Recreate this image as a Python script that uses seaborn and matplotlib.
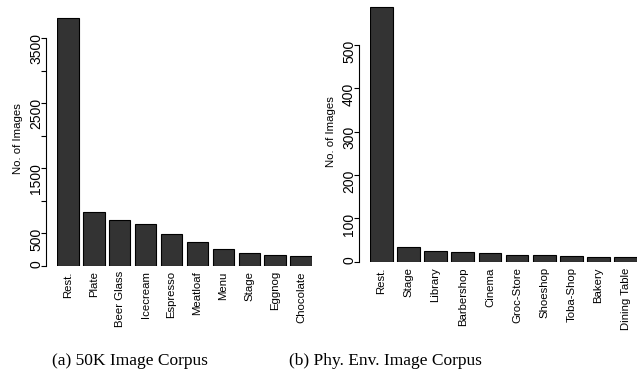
import matplotlib
matplotlib.use("Agg")
import matplotlib.pyplot as plt
import seaborn as sns
import pandas as pd

# data
corpus_labels = ['Rest.', 'Plate', 'Beer Glass', 'Icecream', 'Espresso',
                 'Meatloaf', 'Menu', 'Stage', 'Eggnog', 'Chocolate']
corpus_counts = [3808, 831, 708, 636, 488, 359, 262, 200, 164, 144]

env_labels = ['Rest.', 'Stage', 'Library', 'Barbershop', 'Cinema',
              'Groc-Store', 'Shoeshop', 'Toba-Shop', 'Bakery', 'Dining Table']
env_counts = [588, 33, 25, 22, 20, 16, 15, 13, 12, 12]

left_ticks = [0, 500, 1000, 1500, 2000, 2500, 3000, 3500]
left_ticklabels = ['0', '500', '', '1500', '', '2500', '', '3500']
right_ticks = [0, 100, 200, 300, 400, 500]

sns.set_style("ticks")
plt.rcParams['font.family'] = ['Liberation Sans', 'DejaVu Sans']
plt.rcParams['text.color'] = 'black'
plt.rcParams['axes.labelcolor'] = 'black'
plt.rcParams['xtick.color'] = 'black'
plt.rcParams['ytick.color'] = 'black'

fig = plt.figure(figsize=(6.43, 3.75), dpi=100)
ax1 = fig.add_axes([0.0886, 0.2915, 0.3966, 0.6757])
ax2 = fig.add_axes([0.5754, 0.302, 0.4152, 0.6935])

BAR_W = 1 / 1.2


def draw(ax, labels, counts, ylim, ticks, ticklabels):
    df = pd.DataFrame({'label': labels, 'count': counts})
    sns.barplot(data=df, x='label', y='count', ax=ax, color='#333333',
                edgecolor='black', linewidth=0.8, width=BAR_W, saturation=1)
    ax.set_xlim(-BAR_W / 2, len(labels) - 1 + BAR_W / 2)
    ax.set_ylim(*ylim)
    ax.set_yticks(ticks)
    ax.set_yticklabels(ticklabels, fontsize=8)
    ax.set_xticks(range(len(labels)))
    ax.set_xticklabels(labels, fontsize=8.2)
    ax.tick_params(axis='x', length=0, pad=4, labelrotation=90)
    ax.tick_params(axis='y', length=3.6, width=0.8, pad=-1.5, labelrotation=90)
    for lab in ax.get_yticklabels():
        lab.set_verticalalignment('center')
    for s in ['top', 'right', 'bottom']:
        ax.spines[s].set_visible(False)
    # spine sits about 11 px left of the first bar (offset is in points)
    ax.spines['left'].set_position(('outward', 7.9))
    ax.spines['left'].set_bounds(ticks[0], ticks[-1])
    ax.spines['left'].set_linewidth(0.8)
    ax.spines['left'].set_color('black')
    ax.set_xlabel('')
    ax.set_ylabel('No. of Images', fontsize=8.2, labelpad=4.5)
    ax.patch.set_alpha(0)


draw(ax1, corpus_labels, corpus_counts, (0, 3900), left_ticks, left_ticklabels)
draw(ax2, env_labels, env_counts, (0, 600), right_ticks, [str(t) for t in right_ticks])

fig.text(130 / 643, 1 - 361 / 375, '(a) 50K Image Corpus', ha='center', va='center',
         fontsize=12.5, family=['Liberation Serif'])
fig.text(385 / 643, 1 - 361 / 375, '(b) Phy. Env. Image Corpus', ha='center', va='center',
         fontsize=12.5, family=['Liberation Serif'])

fig.savefig('out.png', dpi=100)
